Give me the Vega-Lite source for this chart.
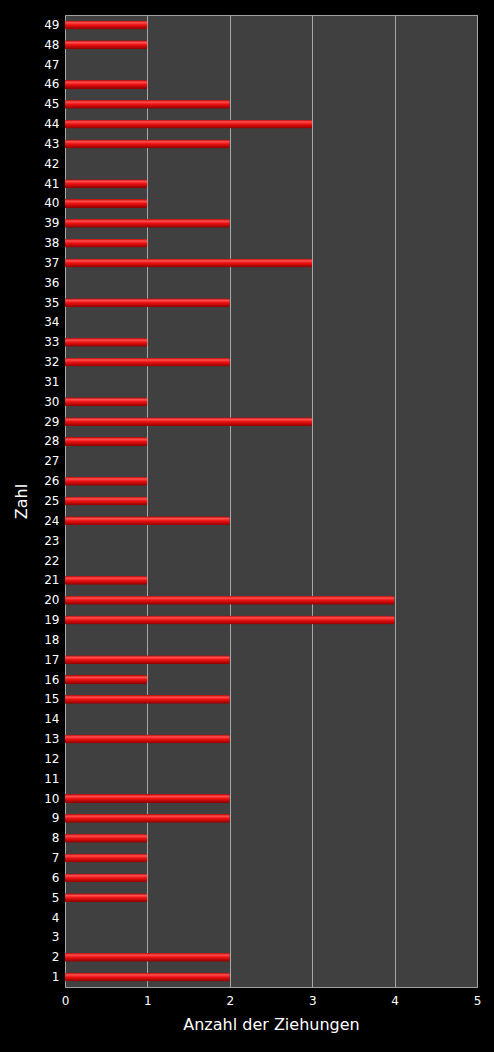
{
  "$schema": "https://vega.github.io/schema/vega-lite/v6.json",
  "autosize": {"type": "none"},
  "padding": {"left": 65, "top": 15, "right": 17, "bottom": 65},
  "width": 412,
  "height": 972,
  "background": "#000000",
  "config": {
    "font": "DejaVu Sans",
    "view": {"fill": "#404040", "stroke": "#a0a0a0", "strokeWidth": 1}
  },
  "data": {
    "values": [
      {"Zahl": 1, "Anzahl": 2}, {"Zahl": 2, "Anzahl": 2}, {"Zahl": 3, "Anzahl": 0},
      {"Zahl": 4, "Anzahl": 0}, {"Zahl": 5, "Anzahl": 1}, {"Zahl": 6, "Anzahl": 1},
      {"Zahl": 7, "Anzahl": 1}, {"Zahl": 8, "Anzahl": 1}, {"Zahl": 9, "Anzahl": 2},
      {"Zahl": 10, "Anzahl": 2}, {"Zahl": 11, "Anzahl": 0}, {"Zahl": 12, "Anzahl": 0},
      {"Zahl": 13, "Anzahl": 2}, {"Zahl": 14, "Anzahl": 0}, {"Zahl": 15, "Anzahl": 2},
      {"Zahl": 16, "Anzahl": 1}, {"Zahl": 17, "Anzahl": 2}, {"Zahl": 18, "Anzahl": 0},
      {"Zahl": 19, "Anzahl": 4}, {"Zahl": 20, "Anzahl": 4}, {"Zahl": 21, "Anzahl": 1},
      {"Zahl": 22, "Anzahl": 0}, {"Zahl": 23, "Anzahl": 0}, {"Zahl": 24, "Anzahl": 2},
      {"Zahl": 25, "Anzahl": 1}, {"Zahl": 26, "Anzahl": 1}, {"Zahl": 27, "Anzahl": 0},
      {"Zahl": 28, "Anzahl": 1}, {"Zahl": 29, "Anzahl": 3}, {"Zahl": 30, "Anzahl": 1},
      {"Zahl": 31, "Anzahl": 0}, {"Zahl": 32, "Anzahl": 2}, {"Zahl": 33, "Anzahl": 1},
      {"Zahl": 34, "Anzahl": 0}, {"Zahl": 35, "Anzahl": 2}, {"Zahl": 36, "Anzahl": 0},
      {"Zahl": 37, "Anzahl": 3}, {"Zahl": 38, "Anzahl": 1}, {"Zahl": 39, "Anzahl": 2},
      {"Zahl": 40, "Anzahl": 1}, {"Zahl": 41, "Anzahl": 1}, {"Zahl": 42, "Anzahl": 0},
      {"Zahl": 43, "Anzahl": 2}, {"Zahl": 44, "Anzahl": 3}, {"Zahl": 45, "Anzahl": 2},
      {"Zahl": 46, "Anzahl": 1}, {"Zahl": 47, "Anzahl": 0}, {"Zahl": 48, "Anzahl": 1},
      {"Zahl": 49, "Anzahl": 1}
    ]
  },
  "mark": {
    "type": "bar",
    "cornerRadiusEnd": 2,
    "color": {
      "gradient": "linear",
      "x1": 0, "y1": 0, "x2": 0, "y2": 1,
      "stops": [
        {"offset": 0, "color": "#b00000"},
        {"offset": 0.25, "color": "#ff5050"},
        {"offset": 0.5, "color": "#ee1111"},
        {"offset": 1, "color": "#8a0000"}
      ]
    }
  },
  "encoding": {
    "y": {
      "field": "Zahl",
      "type": "ordinal",
      "sort": "descending",
      "scale": {"paddingInner": 0.55, "paddingOuter": 0.275},
      "axis": {
        "title": "Zahl",
        "titleColor": "#ffffff",
        "titleFontSize": 16,
        "titleFontWeight": "normal",
        "titlePadding": 14,
        "labelColor": "#ffffff",
        "labelFontSize": 12,
        "labelPadding": 6,
        "ticks": false,
        "domain": false
      }
    },
    "x": {
      "field": "Anzahl",
      "type": "quantitative",
      "scale": {"domain": [0, 5]},
      "axis": {
        "title": "Anzahl der Ziehungen",
        "values": [0, 1, 2, 3, 4, 5],
        "format": "d",
        "labelFlush": false,
        "titleColor": "#ffffff",
        "titleFontSize": 16,
        "titleFontWeight": "normal",
        "titlePadding": 10,
        "labelColor": "#ffffff",
        "labelFontSize": 12,
        "labelPadding": 8,
        "ticks": false,
        "domain": false,
        "grid": true,
        "gridColor": "#a8a8a8",
        "gridWidth": 1
      }
    }
  }
}
